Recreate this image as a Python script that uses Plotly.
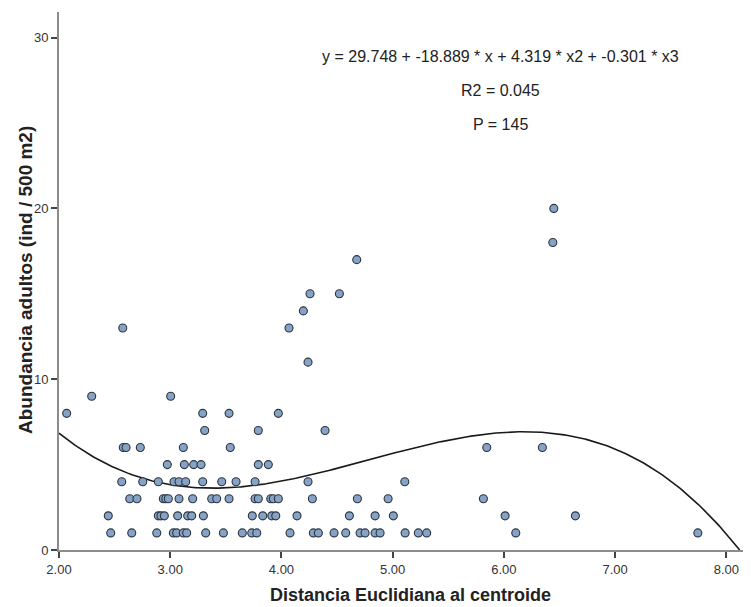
import numpy as np
import plotly.graph_objects as go

# ---- data ----
x_vals = [
    2.573, 2.294, 3.004, 2.069, 3.292, 3.529, 3.310,
    2.578, 2.603, 2.731, 3.118, 3.540,
    2.974, 3.127, 3.211, 3.277,
    2.564, 2.753, 2.893, 3.034, 3.079, 3.139, 3.292, 3.463, 3.592,
    2.636, 2.701, 2.938, 2.960, 2.983, 3.079, 3.202, 3.373, 3.418, 3.529,
    2.443, 2.893, 2.917, 2.947, 3.067, 3.157, 3.193, 3.298,
    2.465, 2.654, 2.879, 3.028, 3.058, 3.118, 3.148, 3.319, 3.478, 3.648,
    4.197, 4.068, 4.239, 3.972, 3.792, 4.392,
    3.792, 3.882,
    3.763, 4.239, 5.109,
    3.763, 3.792, 3.904, 3.927, 3.972, 4.278, 4.683, 4.959,
    3.738, 3.832, 3.913, 3.949, 4.140, 4.611, 4.842, 5.006,
    3.733, 3.778, 4.077, 4.287, 4.332, 4.473, 4.578, 4.707, 4.752, 4.842,
    4.887, 5.112, 5.231, 5.306,
    4.677, 4.257, 4.521,
    6.449, 6.440, 5.846, 6.346, 5.816, 6.011, 6.643, 6.107, 7.744,
]
y_vals = [
    13, 9, 9, 8, 8, 8, 7,
    6, 6, 6, 6, 6,
    5, 5, 5, 5,
    4, 4, 4, 4, 4, 4, 4, 4, 4,
    3, 3, 3, 3, 3, 3, 3, 3, 3, 3,
    2, 2, 2, 2, 2, 2, 2, 2,
    1, 1, 1, 1, 1, 1, 1, 1, 1, 1,
    14, 13, 11, 8, 7, 7,
    5, 5,
    4, 4, 4,
    3, 3, 3, 3, 3, 3, 3, 3,
    2, 2, 2, 2, 2, 2, 2, 2,
    1, 1, 1, 1, 1, 1, 1, 1, 1, 1,
    1, 1, 1, 1,
    17, 15, 15,
    20, 18, 6, 6, 3, 2, 2, 1, 1,
]

# cubic fit coefficients shown in the chart
coef = [29.748, -18.889, 4.319, -0.301]
eq_text = "y = 29.748 + -18.889 * x + 4.319 * x2 + -0.301 * x3"
r2_text = "R2 = 0.045"
p_text = "P = 145"

x_title = "Distancia Euclidiana al centroide"
y_title = "Abundancia adultos (ind / 500 m2)"

xc = np.linspace(2.0, 8.12, 300)
yc = coef[0] + coef[1] * xc + coef[2] * xc ** 2 + coef[3] * xc ** 3
yc = np.clip(yc, 0, None)

FONT = "Liberation Sans, Arial, sans-serif"

W, H = 751, 607
ml, mr, mt, mb = 59, 8, 12, 57
pw, ph = W - ml - mr, H - mt - mb


def px2paper(px, py):
    return (px - ml) / pw, 1 - (py - mt) / ph


fig = go.Figure()
fig.add_trace(go.Scatter(
    x=xc, y=yc, mode="lines",
    line=dict(color="#1a1a1a", width=1.6),
    hoverinfo="skip", showlegend=False,
))
fig.add_trace(go.Scatter(
    x=x_vals, y=y_vals, mode="markers",
    marker=dict(size=8, color="#86a3c6",
                line=dict(color="#2b3440", width=1.1)),
    showlegend=False,
))

for txt, py in [(eq_text, 57), (r2_text, 91), (p_text, 124)]:
    ax, ay = px2paper(500, py)
    fig.add_annotation(
        x=ax, y=ay, xref="paper", yref="paper",
        xanchor="center", yanchor="middle",
        text=txt, showarrow=False,
        font=dict(family=FONT, size=16, color="#222"),
    )

# axis titles placed as text
ax, ay = px2paper(25, 280)
fig.add_annotation(
    x=ax, y=ay, xref="paper", yref="paper", xanchor="center", yanchor="middle",
    text="<b>" + y_title + "</b>", textangle=-90, showarrow=False,
    font=dict(family=FONT, size=19, color="#222"),
)
ax, ay = px2paper(410, 595)
fig.add_annotation(
    x=ax, y=ay, xref="paper", yref="paper", xanchor="center", yanchor="middle",
    text="<b>" + x_title + "</b>", showarrow=False,
    font=dict(family=FONT, size=18, color="#222"),
)

fig.update_layout(
    width=W, height=H,
    margin=dict(l=ml, r=mr, t=mt, b=mb, autoexpand=False),
    paper_bgcolor="white", plot_bgcolor="white",
    font=dict(family=FONT, size=13, color="#333"),
    xaxis=dict(
        range=[2.0, 8.15], tickvals=[2, 3, 4, 5, 6, 7, 8], tickformat=".2f",
        showgrid=False, zeroline=False, automargin=False,
        showline=True, linecolor="#8c8c8c", linewidth=2,
        ticks="outside", ticklen=6, tickwidth=1.5, tickcolor="#444",
        tickfont=dict(family=FONT, size=13, color="#333"),
    ),
    yaxis=dict(
        range=[0, 31.5], tickvals=[0, 10, 20, 30],
        showgrid=False, zeroline=False, automargin=False,
        showline=True, linecolor="#8c8c8c", linewidth=2,
        ticks="outside", ticklen=6, tickwidth=1.5, tickcolor="#444",
        tickfont=dict(family=FONT, size=13, color="#333"),
    ),
)

fig.write_html("out.html")
